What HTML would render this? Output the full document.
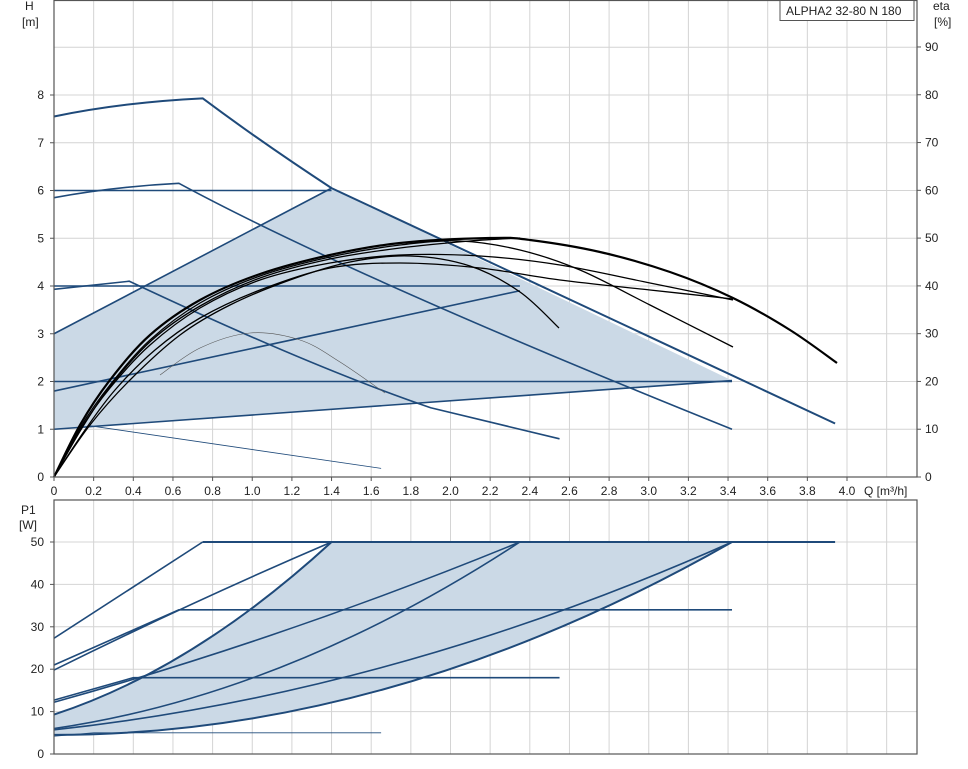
<!DOCTYPE html>
<html><head><meta charset="utf-8"><style>
body{margin:0;background:#fff;width:968px;height:764px;overflow:hidden}
svg text{font-family:"Liberation Sans",sans-serif;font-size:12px;fill:#222}
</style></head><body>
<svg id="s" width="968" height="764" xmlns="http://www.w3.org/2000/svg">
<g id="grid" stroke="#d4d4d4" stroke-width="1"></g>
<path id="shadeTop" fill="#cbd9e6" stroke="none"/>
<path id="shadeBot" fill="#cbd9e6" stroke="none"/>
<g id="blue" fill="none" stroke="#1f4a7a" stroke-width="1.6"></g>
<g id="black" fill="none" stroke="#000" stroke-width="1.3"></g>
<g id="axes" stroke="#555" stroke-width="1.2" fill="none">
<rect x="54" y="0.5" width="863" height="476.5"/>
<rect x="54" y="500" width="863" height="254"/>
</g>
<g id="labels"></g>
<rect x="780" y="0.5" width="134" height="20" fill="#fff" stroke="#555"/>
<text x="786" y="15">ALPHA2 32-80 N 180</text>
<text x="25" y="10">H</text><text x="22" y="26">[m]</text>
<text x="933" y="10">eta</text><text x="934" y="26">[%]</text>
<text x="21" y="514">P1</text><text x="19" y="529">[W]</text>
<text x="864" y="495">Q [m³/h]</text>
</svg>
<script>
const NS="http://www.w3.org/2000/svg";
const X=q=>54+198.25*q, Y=h=>477-47.75*h, P=w=>754-4.24*w;
function el(g,tag,attrs,txt){const e=document.createElementNS(NS,tag);for(const k in attrs)e.setAttribute(k,attrs[k]);if(txt!==undefined)e.textContent=txt;document.getElementById(g).appendChild(e);return e;}
for(let i=1;i<22;i++){const x=X(i*0.2);el('grid','line',{x1:x,y1:0,x2:x,y2:477});el('grid','line',{x1:x,y1:500,x2:x,y2:754});}
for(let h=1;h<=9;h++)el('grid','line',{x1:54,y1:Y(h),x2:917,y2:Y(h)});
for(let w=10;w<=50;w+=10)el('grid','line',{x1:54,y1:P(w),x2:917,y2:P(w)});
for(let i=0;i<=20;i++){const q=i*0.2;const t=i==0?'0':q.toFixed(1);el('labels','text',{x:X(q),y:495,'text-anchor':'middle'},t);el('labels','line',{x1:X(q),y1:477,x2:X(q),y2:481,stroke:'#555'});}
for(let h=0;h<=8;h++){el('labels','text',{x:44,y:Y(h)+4,'text-anchor':'end'},h);el('labels','line',{x1:50,y1:Y(h),x2:54,y2:Y(h),stroke:'#555'});}
for(let e=0;e<=90;e+=10){const y=477-4.778*e;el('labels','text',{x:925,y:y+4},e);el('labels','line',{x1:917,y1:y,x2:921,y2:y,stroke:'#555'});}
for(let w=0;w<=50;w+=10){el('labels','text',{x:44,y:P(w)+4,'text-anchor':'end'},w);el('labels','line',{x1:50,y1:P(w),x2:54,y2:P(w),stroke:'#555'});}
function cr(pts){let d='M'+pts[0].join(',');for(let i=0;i<pts.length-1;i++){const p0=pts[Math.max(0,i-1)],p1=pts[i],p2=pts[i+1],p3=pts[Math.min(pts.length-1,i+2)];
d+=` C${p1[0]+(p2[0]-p0[0])/6},${p1[1]+(p2[1]-p0[1])/6} ${p2[0]-(p3[0]-p1[0])/6},${p2[1]-(p3[1]-p1[1])/6} ${p2[0]},${p2[1]}`;}return d;}
const L=(g,d,sw)=>el(g,'path',sw?{d:d,'stroke-width':sw}:{d:d});
document.getElementById('shadeTop').setAttribute('d',`M${X(0)},${Y(3)} L${X(1.4)},${Y(6.05)} L${X(3.42)},${Y(2.02)} L${X(0)},${Y(1)} Z`);
L('blue',`M${X(0)},${Y(7.55)} Q${X(0.35)},${Y(7.85)} ${X(0.75)},${Y(7.93)} Q${X(1.05)},${Y(7.0)} ${X(1.4)},${Y(6.05)} L${X(3.94)},${Y(1.12)}`,2);
L('blue',`M${X(0)},${Y(5.85)} Q${X(0.3)},${Y(6.08)} ${X(0.63)},${Y(6.15)} Q${X(1.5)},${Y(4.2)} ${X(3.42)},${Y(1.0)}`);
L('blue',`M${X(0)},${Y(3.93)} L${X(0.38)},${Y(4.1)} Q${X(1.3)},${Y(2.3)} ${X(1.9)},${Y(1.45)} L${X(2.55)},${Y(0.8)}`);
L('blue',`M${X(0.17)},${Y(1.08)} L${X(1.65)},${Y(0.18)}`,0.8);
L('blue',`M${X(0)},${Y(6)} H${X(1.4)} M${X(0)},${Y(4)} H${X(2.35)} M${X(0)},${Y(2)} H${X(3.42)}`);
L('blue',`M${X(0)},${Y(3)} L${X(1.4)},${Y(6.05)} M${X(0)},${Y(1.8)} L${X(2.35)},${Y(3.9)} M${X(0)},${Y(1)} L${X(3.42)},${Y(2.02)}`);
const E=[
[[54,477],[80,425],[110,380],[150,335],[200,300],[260,274],[330,255],[400,243],[490,238],[530,240],[600,252],[670,272],[733,298],[790,330],[837,363]],
[[54,477],[80,428],[110,385],[150,340],[200,303],[260,276],[330,257],[400,245],[460,241],[520,250],[580,270],[650,305],[733,347]],
[[54,477],[80,430],[110,388],[150,345],[200,308],[260,280],[330,263],[400,255],[480,256],[560,265],[650,283],[733,300]],
[[54,477],[85,430],[115,390],[155,350],[200,318],[260,290],[330,268],[400,263],[480,268],[560,280],[650,290],[733,299]],
[[54,477],[90,425],[130,380],[180,335],[230,305],[290,280],[350,262],[410,256],[470,266],[520,292],[559,328]],
[[54,477],[82,428],[112,384],[152,340],[200,306],[260,278],[330,259],[400,248],[470,241],[520,238]]
];
E.forEach((p,i)=>L('black',cr(p),i==0?2.2:1.3));
L('black',cr([[160,375],[200,348],[250,333],[300,340],[340,362],[385,393]]),0.6).setAttribute('stroke','#555');
document.getElementById('shadeBot').setAttribute('d',`M${X(0)},${P(9.3)} Q${X(0.7)},${P(20)} ${X(1.4)},${P(50)} L${X(3.42)},${P(50)} Q${X(1.71)},${P(4.5)} ${X(0)},${P(4.5)} Z`);
L('blue',`M${X(0.75)},${P(50)} H${X(3.94)}`,2);
L('blue',`M${X(0)},${P(27.3)} L${X(0.75)},${P(50)}`);
L('blue',`M${X(0)},${P(21)} L${X(0.63)},${P(34)} H${X(3.42)}`);
L('blue',`M${X(0)},${P(19.8)} Q${X(0.7)},${P(36)} ${X(1.4)},${P(50)}`);
L('blue',`M${X(0)},${P(12.7)} L${X(0.4)},${P(18)} H${X(2.55)}`);
L('blue',`M${X(0)},${P(12.2)} Q${X(1.175)},${P(27.5)} ${X(2.35)},${P(50)}`);
L('blue',`M${X(0)},${P(9.3)} Q${X(0.7)},${P(20)} ${X(1.4)},${P(50)}`,2);
L('blue',`M${X(0)},${P(6)} Q${X(1.175)},${P(14.06)} ${X(2.35)},${P(50)}`);
L('blue',`M${X(0)},${P(5.7)} Q${X(1.71)},${P(14.4)} ${X(3.42)},${P(50)}`);
L('blue',`M${X(0)},${P(4.5)} Q${X(1.71)},${P(4.5)} ${X(3.42)},${P(50)}`,2);
L('blue',`M${X(0)},${P(4.2)} L${X(0.2)},${P(5)} H${X(1.65)}`,0.8);
</script>
</body></html>
